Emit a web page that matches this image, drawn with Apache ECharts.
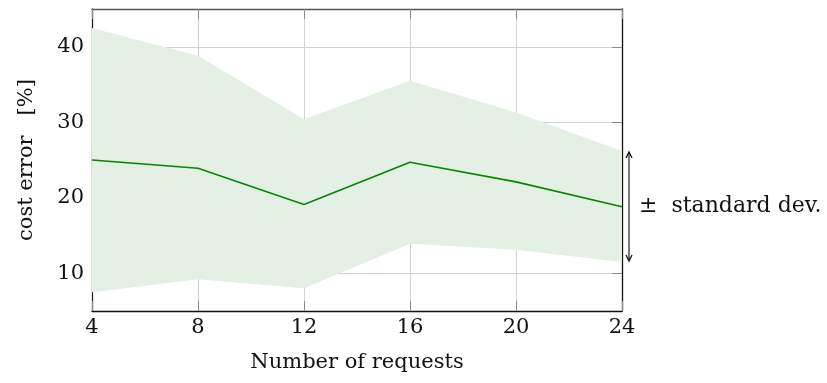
<!DOCTYPE html>
<html>
<head>
<meta charset="utf-8">
<script src="https://cdn.jsdelivr.net/npm/echarts@6/dist/echarts.min.js"></script>
<style>
  html, body { margin: 0; padding: 0; background: #ffffff; }
  #chart { width: 827px; height: 383px; }
</style>
</head>
<body>
<div id="chart"></div>
<script>
// Number of requests (x) and cost error statistics in percent
const requests = ['4', '8', '12', '16', '20', '24'];
const meanError = [25.0, 23.9, 19.1, 24.7, 22.1, 18.8];
const upperError = [42.5, 38.8, 30.4, 35.5, 31.3, 26.2];
const lowerError = [7.5, 9.2, 8.0, 13.9, 13.1, 11.5];
const yTickValues = [10, 20, 30, 40];

const FONT = 'DejaVu Serif';
const FONT_SIZE = 21;
const GRID_COLOR = '#d2d2d2';
const TICK_COLOR = '#8a8a8a';

// band thickness stacked on top of the lower bound
const bandWidth = upperError.map((u, i) => +(u - lowerError[i]).toFixed(2));

const chart = echarts.init(document.getElementById('chart'), null, { renderer: 'canvas' });

const catAxisBase = {
  type: 'category',
  data: requests,
  boundaryGap: false,
  axisTick: { show: true, inside: true, length: 10, alignWithLabel: true, lineStyle: { color: TICK_COLOR } },
  splitLine: { show: false }
};

const valAxisBase = {
  type: 'value',
  min: 5,
  max: 45,
  axisTick: { show: true, inside: true, length: 10, customValues: yTickValues, lineStyle: { color: TICK_COLOR } },
  splitLine: { show: false }
};

chart.setOption({
  animation: false,
  backgroundColor: '#ffffff',
  textStyle: { fontFamily: FONT },
  grid: { left: 92, right: 205, top: 9, bottom: 72, containLabel: false },
  xAxis: [
    Object.assign({}, catAxisBase, {
      position: 'bottom',
      name: 'Number of requests',
      nameLocation: 'middle',
      nameGap: 41,
      nameTextStyle: { fontFamily: FONT, fontSize: FONT_SIZE, color: '#111' },
      axisLine: { show: true, lineStyle: { color: '#111', width: 1.3 } },
      axisLabel: { show: true, margin: 6, fontFamily: FONT, fontSize: FONT_SIZE, color: '#111' },
      splitLine: { show: true, lineStyle: { color: GRID_COLOR, width: 1 } }
    }),
    Object.assign({}, catAxisBase, {
      position: 'top',
      axisLine: { show: true, lineStyle: { color: '#555', width: 1.3 } },
      axisLabel: { show: false }
    })
  ],
  yAxis: [
    Object.assign({}, valAxisBase, {
      position: 'left',
      name: 'cost error   [%]',
      nameLocation: 'middle',
      nameRotate: 90,
      nameGap: 55,
      nameTextStyle: { fontFamily: FONT, fontSize: FONT_SIZE, color: '#111' },
      axisLine: { show: true, lineStyle: { color: '#222', width: 1.3 } },
      axisLabel: { show: true, margin: 8, customValues: yTickValues, fontFamily: FONT, fontSize: FONT_SIZE, color: '#111' },
      splitLine: { show: true, lineStyle: { color: GRID_COLOR, width: 1 } }
    }),
    Object.assign({}, valAxisBase, {
      position: 'right',
      axisLine: { show: true, lineStyle: { color: '#111', width: 1.3 } },
      axisLabel: { show: false }
    })
  ],
  series: [
    {
      name: 'lower',
      type: 'line',
      stack: 'band',
      data: lowerError,
      symbol: 'none',
      lineStyle: { opacity: 0 },
      silent: true,
      z: 1
    },
    {
      name: 'band',
      type: 'line',
      stack: 'band',
      data: bandWidth,
      symbol: 'none',
      lineStyle: { opacity: 0 },
      areaStyle: { color: '#e3f0e3', opacity: 1 },
      silent: true,
      z: 1
    },
    {
      name: 'mean',
      type: 'line',
      data: meanError,
      symbol: 'none',
      lineStyle: { color: '#078507', width: 1.6 },
      z: 5
    }
  ]
});

// Double-headed arrow annotating the band at the last sample
function drawAnnotation() {
  const last = requests.length - 1;
  const top = chart.convertToPixel({ gridIndex: 0 }, [last, upperError[last]]);
  const bottom = chart.convertToPixel({ gridIndex: 0 }, [last, lowerError[last]]);
  const ax = top[0] + 7;
  const y1 = top[1] + 1;
  const y2 = bottom[1] - 1;
  const head = 6, half = 3;
  chart.setOption({
    graphic: [
      { type: 'line', shape: { x1: ax, y1: y1 + 1, x2: ax, y2: y2 - 1 }, style: { stroke: '#333', lineWidth: 1.3 }, z: 20 },
      { type: 'polyline', shape: { points: [[ax - half, y1 + head], [ax, y1], [ax + half, y1 + head]] }, style: { stroke: '#111', lineWidth: 1.3, fill: null }, z: 20 },
      { type: 'polyline', shape: { points: [[ax - half, y2 - head], [ax, y2], [ax + half, y2 - head]] }, style: { stroke: '#111', lineWidth: 1.3, fill: null }, z: 20 },
      {
        type: 'text',
        x: ax + 10,
        y: (y1 + y2) / 2,
        style: { text: '±  standard dev.', font: '22px "' + FONT + '"', fill: '#111', verticalAlign: 'middle', align: 'left' },
        z: 20
      }
    ]
  });
}
drawAnnotation();
</script>
</body>
</html>
